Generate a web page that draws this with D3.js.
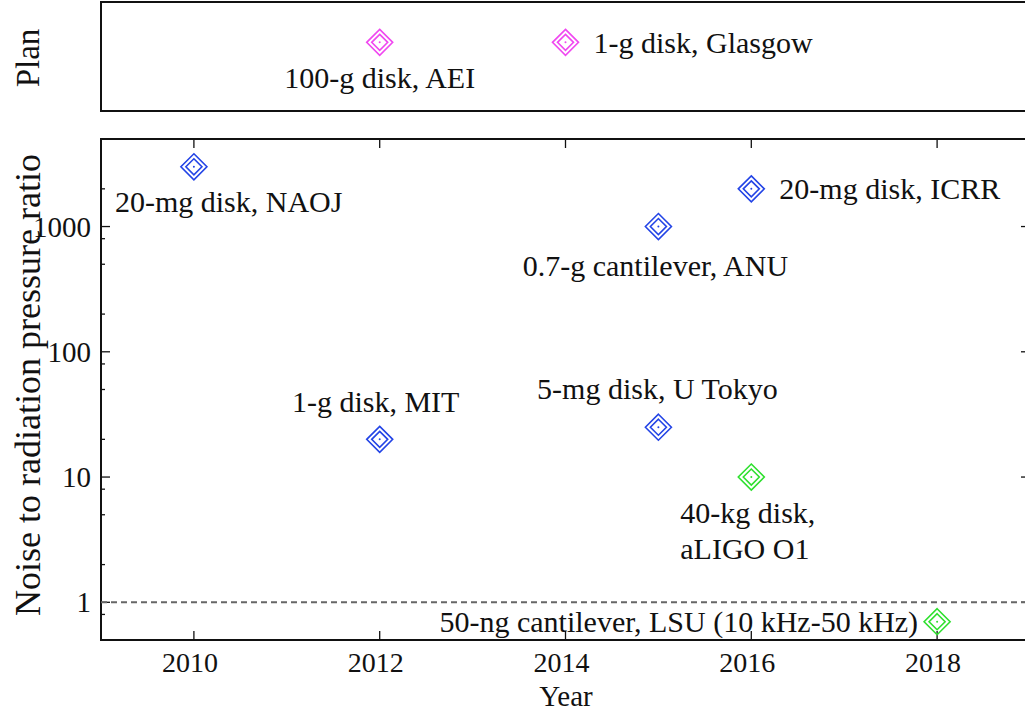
<!DOCTYPE html>
<html>
<head>
<meta charset="utf-8">
<script src="https://cdn.jsdelivr.net/npm/d3@7"></script>
<style>
  body { margin: 0; background: #fff; }
  svg { display: block; }
</style>
</head>
<body>
<svg id="chart" width="1025" height="713"></svg>
<script>
// measured data
var years    = [2010, 2016, 2015, 2012, 2015, 2016, 2018];
var ratios   = [3000, 2000, 1000, 20, 25, 10, 0.7];
var groups   = ["run", "run", "run", "run", "run", "ligo", "ligo"];
var labels   = ["20-mg disk, NAOJ", "20-mg disk, ICRR", "0.7-g cantilever, ANU",
                "1-g disk, MIT", "5-mg disk, U Tokyo", "40-kg disk,|aLIGO O1",
                "50-ng cantilever, LSU (10 kHz-50 kHz)"];

var planYears  = [2012, 2014];
var planLabels = ["100-g disk, AEI", "1-g disk, Glasgow"];

var yTicks = [1, 10, 100, 1000];
var xTicks = [2010, 2012, 2014, 2016, 2018];

// label placement relative to marker
var labelPos = [
  {dx: -79, dy: 35, anchor: "start"},
  {dx: 28, dy: 0, anchor: "start"},
  {dx: -3, dy: 39, anchor: "middle"},
  {dx: -4, dy: -38, anchor: "middle"},
  {dx: -1, dy: -39, anchor: "middle"},
  {dx: -71, dy: 35, anchor: "start"},
  {dx: -19, dy: 0, anchor: "end"}
];
var planPos = [
  {dx: 0, dy: 35, anchor: "middle"},
  {dx: 28, dy: 0, anchor: "start"}
];

var colors = {run: "#2344e6", ligo: "#2ee02e", plan: "#f048f0"};

var svg = d3.select("#chart");
var left = 101, right = 1030;
var FONT = "'Liberation Serif', 'Times New Roman', serif";

var x = d3.scaleLinear().domain([2009, 2019]).range([left, right]);
var y = d3.scaleLog().domain([0.5, 5000]).range([640, 139]);
var yPlan = d3.scaleLinear().domain([0, 1]).range([111, 2]);

function addText(g, px, py, str, anchor, size, rot) {
  return g.append("text")
    .attr("transform", "translate(" + px + "," + py + ")" + (rot ? " rotate(" + rot + ")" : ""))
    .attr("text-anchor", anchor)
    .attr("dominant-baseline", "central")
    .style("font-family", FONT)
    .style("font-size", (size || 30) + "px")
    .style("fill", "#111")
    .text(str);
}

function diamond(g, px, py, color) {
  var m = g.append("g").attr("transform", "translate(" + px + "," + py + ")");
  [13, 8].forEach(function(r) {
    m.append("path")
      .attr("d", "M0," + (-r) + "L" + r + ",0L0," + r + "L" + (-r) + ",0Z")
      .attr("fill", "none").attr("stroke", color).attr("stroke-width", 1.6);
  });
  m.append("circle").attr("r", 1).attr("fill", color);
}

// frames
var frame = svg.append("g");
frame.append("rect").attr("x", left).attr("y", 2).attr("width", right - left + 10).attr("height", 109)
  .attr("fill", "none").attr("stroke", "#111").attr("stroke-width", 2);
frame.append("rect").attr("x", left).attr("y", 139).attr("width", right - left).attr("height", 501)
  .attr("fill", "none").attr("stroke", "#111").attr("stroke-width", 2);

// y ticks (major + minor at 2,5,8)
var minor = [];
[0.1, 1, 10, 100, 1000].forEach(function(d) {
  [2, 5, 8].forEach(function(k) {
    var v = d * k;
    if (v >= 0.5 && v <= 5000) minor.push(v);
  });
});
var tk = svg.append("g").attr("stroke", "#111").attr("stroke-width", 1.3);
yTicks.forEach(function(v) {
  tk.append("line").attr("x1", left).attr("x2", left + 9).attr("y1", y(v)).attr("y2", y(v));
  tk.append("line").attr("x1", right).attr("x2", right - 9).attr("y1", y(v)).attr("y2", y(v));
});
minor.forEach(function(v) {
  tk.append("line").attr("x1", left).attr("x2", left + 4).attr("y1", y(v)).attr("y2", y(v));
  tk.append("line").attr("x1", right).attr("x2", right - 4).attr("y1", y(v)).attr("y2", y(v));
});
xTicks.forEach(function(v) {
  tk.append("line").attr("x1", x(v)).attr("x2", x(v)).attr("y1", 640).attr("y2", 631);
  tk.append("line").attr("x1", x(v)).attr("x2", x(v)).attr("y1", 139).attr("y2", 148);
});

// dashed line at ratio 1
svg.append("line").attr("x1", left).attr("x2", right).attr("y1", y(1)).attr("y2", y(1))
  .attr("stroke", "#666").attr("stroke-width", 2).attr("stroke-dasharray", "6,4");

var txt = svg.append("g");
yTicks.forEach(function(v) { addText(txt, 91, y(v), String(v), "end", 29); });
xTicks.forEach(function(v) { addText(txt, x(v) - 4, 662, String(v), "middle", 28); });
addText(txt, 566, 696, "Year", "middle", 29);
addText(txt, 28, 385, "Noise to radiation pressure ratio", "middle", 36, -90);
addText(txt, 28, 58, "Plan", "middle", 33, -90);

// points
var pts = svg.append("g");
years.forEach(function(yr, i) {
  var px = x(yr), py = y(ratios[i]);
  diamond(pts, px, py, colors[groups[i]]);
  var p = labelPos[i];
  labels[i].split("|").forEach(function(line, j) {
    addText(txt, px + p.dx, py + p.dy + j * 36, line, p.anchor);
  });
});
planYears.forEach(function(yr, i) {
  var px = x(yr), py = yPlan(0.63);
  diamond(pts, px, py, colors.plan);
  var p = planPos[i];
  addText(txt, px + p.dx, py + p.dy, planLabels[i], p.anchor);
});
</script>
</body>
</html>
